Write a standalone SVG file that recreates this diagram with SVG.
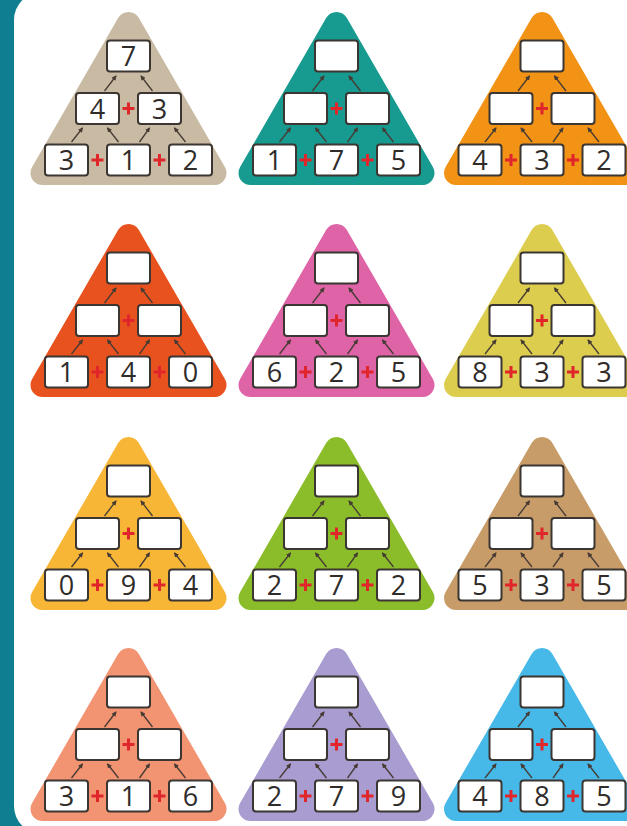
<svg xmlns="http://www.w3.org/2000/svg" width="627" height="826" viewBox="0 0 627 826">
<defs>
<marker id="ah" viewBox="0 0 6 6" refX="5" refY="3" markerWidth="5" markerHeight="5" markerUnits="userSpaceOnUse" orient="auto"><path d="M0,0 L6,3 L0,6 Z" fill="#463b33"/></marker>
<style>
.tri{stroke-width:24;stroke-linejoin:round}
.box{fill:#ffffff;stroke:#3b3632;stroke-width:2}
.plus{fill:none;stroke:#e0262b;stroke-width:3}
.num{font-family:"Open Sans","Liberation Sans",sans-serif;font-size:27px;fill:#2f2c2a;text-anchor:middle}
.arr{stroke:#463b33;stroke-width:1.3;fill:none;marker-end:url(#ah)}
</style>
</defs>
<rect x="0" y="0" width="627" height="826" fill="#0f7e90"/>
<rect x="14" y="-8" width="700" height="842" rx="28" fill="#ffffff"/>

<g id="pyramid-1" transform="translate(128.5,160)">
<path class="tri" d="M0,-136 L86,13 L-86,13Z" fill="#c9bba3" stroke="#c9bba3"/>
<g id="p1-top"><rect class="box" x="-21.5" y="-119.5" width="43" height="31" rx="3"/><text class="num" x="0" y="-94">7</text></g>
<g id="p1-ml"><rect class="box" x="-52.5" y="-67" width="43" height="31" rx="3"/><text class="num" x="-31" y="-41.5">4</text></g>
<g id="p1-mr"><rect class="box" x="9.5" y="-67" width="43" height="31" rx="3"/><text class="num" x="31" y="-41.5">3</text></g>
<g id="p1-bl"><rect class="box" x="-83.5" y="-15.5" width="43" height="31" rx="3"/><text class="num" x="-62" y="10">3</text></g>
<g id="p1-bm"><rect class="box" x="-21.5" y="-15.5" width="43" height="31" rx="3"/><text class="num" x="0" y="10">1</text></g>
<g id="p1-br"><rect class="box" x="40.5" y="-15.5" width="43" height="31" rx="3"/><text class="num" x="62" y="10">2</text></g>
<path class="plus" d="M-37,0H-25M-31,-6V6M25,0H37M31,-6V6M-6,-51.5H6M0,-57.5V-45.5"/>
</g>

<g id="pyramid-2" transform="translate(336.5,160)">
<path class="tri" d="M0,-136 L86,13 L-86,13Z" fill="#179a8f" stroke="#179a8f"/>
<g id="p2-top"><rect class="box" x="-21.5" y="-119.5" width="43" height="31" rx="3"/></g>
<g id="p2-ml"><rect class="box" x="-52.5" y="-67" width="43" height="31" rx="3"/></g>
<g id="p2-mr"><rect class="box" x="9.5" y="-67" width="43" height="31" rx="3"/></g>
<g id="p2-bl"><rect class="box" x="-83.5" y="-15.5" width="43" height="31" rx="3"/><text class="num" x="-62" y="10">1</text></g>
<g id="p2-bm"><rect class="box" x="-21.5" y="-15.5" width="43" height="31" rx="3"/><text class="num" x="0" y="10">7</text></g>
<g id="p2-br"><rect class="box" x="40.5" y="-15.5" width="43" height="31" rx="3"/><text class="num" x="62" y="10">5</text></g>
<path class="plus" d="M-37,0H-25M-31,-6V6M25,0H37M31,-6V6M-6,-51.5H6M0,-57.5V-45.5"/>
</g>

<g id="pyramid-3" transform="translate(542,160)">
<path class="tri" d="M0,-136 L86,13 L-86,13Z" fill="#f39316" stroke="#f39316"/>
<g id="p3-top"><rect class="box" x="-21.5" y="-119.5" width="43" height="31" rx="3"/></g>
<g id="p3-ml"><rect class="box" x="-52.5" y="-67" width="43" height="31" rx="3"/></g>
<g id="p3-mr"><rect class="box" x="9.5" y="-67" width="43" height="31" rx="3"/></g>
<g id="p3-bl"><rect class="box" x="-83.5" y="-15.5" width="43" height="31" rx="3"/><text class="num" x="-62" y="10">4</text></g>
<g id="p3-bm"><rect class="box" x="-21.5" y="-15.5" width="43" height="31" rx="3"/><text class="num" x="0" y="10">3</text></g>
<g id="p3-br"><rect class="box" x="40.5" y="-15.5" width="43" height="31" rx="3"/><text class="num" x="62" y="10">2</text></g>
<path class="plus" d="M-37,0H-25M-31,-6V6M25,0H37M31,-6V6M-6,-51.5H6M0,-57.5V-45.5"/>
</g>

<g id="pyramid-4" transform="translate(128.5,372)">
<path class="tri" d="M0,-136 L86,13 L-86,13Z" fill="#e8521f" stroke="#e8521f"/>
<g id="p4-top"><rect class="box" x="-21.5" y="-119.5" width="43" height="31" rx="3"/></g>
<g id="p4-ml"><rect class="box" x="-52.5" y="-67" width="43" height="31" rx="3"/></g>
<g id="p4-mr"><rect class="box" x="9.5" y="-67" width="43" height="31" rx="3"/></g>
<g id="p4-bl"><rect class="box" x="-83.5" y="-15.5" width="43" height="31" rx="3"/><text class="num" x="-62" y="10">1</text></g>
<g id="p4-bm"><rect class="box" x="-21.5" y="-15.5" width="43" height="31" rx="3"/><text class="num" x="0" y="10">4</text></g>
<g id="p4-br"><rect class="box" x="40.5" y="-15.5" width="43" height="31" rx="3"/><text class="num" x="62" y="10">0</text></g>
<path class="plus" d="M-37,0H-25M-31,-6V6M25,0H37M31,-6V6M-6,-51.5H6M0,-57.5V-45.5"/>
</g>

<g id="pyramid-5" transform="translate(336.5,372)">
<path class="tri" d="M0,-136 L86,13 L-86,13Z" fill="#de63a7" stroke="#de63a7"/>
<g id="p5-top"><rect class="box" x="-21.5" y="-119.5" width="43" height="31" rx="3"/></g>
<g id="p5-ml"><rect class="box" x="-52.5" y="-67" width="43" height="31" rx="3"/></g>
<g id="p5-mr"><rect class="box" x="9.5" y="-67" width="43" height="31" rx="3"/></g>
<g id="p5-bl"><rect class="box" x="-83.5" y="-15.5" width="43" height="31" rx="3"/><text class="num" x="-62" y="10">6</text></g>
<g id="p5-bm"><rect class="box" x="-21.5" y="-15.5" width="43" height="31" rx="3"/><text class="num" x="0" y="10">2</text></g>
<g id="p5-br"><rect class="box" x="40.5" y="-15.5" width="43" height="31" rx="3"/><text class="num" x="62" y="10">5</text></g>
<path class="plus" d="M-37,0H-25M-31,-6V6M25,0H37M31,-6V6M-6,-51.5H6M0,-57.5V-45.5"/>
</g>

<g id="pyramid-6" transform="translate(542,372)">
<path class="tri" d="M0,-136 L86,13 L-86,13Z" fill="#dccd4f" stroke="#dccd4f"/>
<g id="p6-top"><rect class="box" x="-21.5" y="-119.5" width="43" height="31" rx="3"/></g>
<g id="p6-ml"><rect class="box" x="-52.5" y="-67" width="43" height="31" rx="3"/></g>
<g id="p6-mr"><rect class="box" x="9.5" y="-67" width="43" height="31" rx="3"/></g>
<g id="p6-bl"><rect class="box" x="-83.5" y="-15.5" width="43" height="31" rx="3"/><text class="num" x="-62" y="10">8</text></g>
<g id="p6-bm"><rect class="box" x="-21.5" y="-15.5" width="43" height="31" rx="3"/><text class="num" x="0" y="10">3</text></g>
<g id="p6-br"><rect class="box" x="40.5" y="-15.5" width="43" height="31" rx="3"/><text class="num" x="62" y="10">3</text></g>
<path class="plus" d="M-37,0H-25M-31,-6V6M25,0H37M31,-6V6M-6,-51.5H6M0,-57.5V-45.5"/>
</g>

<g id="pyramid-7" transform="translate(128.5,585)">
<path class="tri" d="M0,-136 L86,13 L-86,13Z" fill="#f8b637" stroke="#f8b637"/>
<g id="p7-top"><rect class="box" x="-21.5" y="-119.5" width="43" height="31" rx="3"/></g>
<g id="p7-ml"><rect class="box" x="-52.5" y="-67" width="43" height="31" rx="3"/></g>
<g id="p7-mr"><rect class="box" x="9.5" y="-67" width="43" height="31" rx="3"/></g>
<g id="p7-bl"><rect class="box" x="-83.5" y="-15.5" width="43" height="31" rx="3"/><text class="num" x="-62" y="10">0</text></g>
<g id="p7-bm"><rect class="box" x="-21.5" y="-15.5" width="43" height="31" rx="3"/><text class="num" x="0" y="10">9</text></g>
<g id="p7-br"><rect class="box" x="40.5" y="-15.5" width="43" height="31" rx="3"/><text class="num" x="62" y="10">4</text></g>
<path class="plus" d="M-37,0H-25M-31,-6V6M25,0H37M31,-6V6M-6,-51.5H6M0,-57.5V-45.5"/>
</g>

<g id="pyramid-8" transform="translate(336.5,585)">
<path class="tri" d="M0,-136 L86,13 L-86,13Z" fill="#8bbd2b" stroke="#8bbd2b"/>
<g id="p8-top"><rect class="box" x="-21.5" y="-119.5" width="43" height="31" rx="3"/></g>
<g id="p8-ml"><rect class="box" x="-52.5" y="-67" width="43" height="31" rx="3"/></g>
<g id="p8-mr"><rect class="box" x="9.5" y="-67" width="43" height="31" rx="3"/></g>
<g id="p8-bl"><rect class="box" x="-83.5" y="-15.5" width="43" height="31" rx="3"/><text class="num" x="-62" y="10">2</text></g>
<g id="p8-bm"><rect class="box" x="-21.5" y="-15.5" width="43" height="31" rx="3"/><text class="num" x="0" y="10">7</text></g>
<g id="p8-br"><rect class="box" x="40.5" y="-15.5" width="43" height="31" rx="3"/><text class="num" x="62" y="10">2</text></g>
<path class="plus" d="M-37,0H-25M-31,-6V6M25,0H37M31,-6V6M-6,-51.5H6M0,-57.5V-45.5"/>
</g>

<g id="pyramid-9" transform="translate(542,585)">
<path class="tri" d="M0,-136 L86,13 L-86,13Z" fill="#c79c69" stroke="#c79c69"/>
<g id="p9-top"><rect class="box" x="-21.5" y="-119.5" width="43" height="31" rx="3"/></g>
<g id="p9-ml"><rect class="box" x="-52.5" y="-67" width="43" height="31" rx="3"/></g>
<g id="p9-mr"><rect class="box" x="9.5" y="-67" width="43" height="31" rx="3"/></g>
<g id="p9-bl"><rect class="box" x="-83.5" y="-15.5" width="43" height="31" rx="3"/><text class="num" x="-62" y="10">5</text></g>
<g id="p9-bm"><rect class="box" x="-21.5" y="-15.5" width="43" height="31" rx="3"/><text class="num" x="0" y="10">3</text></g>
<g id="p9-br"><rect class="box" x="40.5" y="-15.5" width="43" height="31" rx="3"/><text class="num" x="62" y="10">5</text></g>
<path class="plus" d="M-37,0H-25M-31,-6V6M25,0H37M31,-6V6M-6,-51.5H6M0,-57.5V-45.5"/>
</g>

<g id="pyramid-10" transform="translate(128.5,796)">
<path class="tri" d="M0,-136 L86,13 L-86,13Z" fill="#f29372" stroke="#f29372"/>
<g id="p10-top"><rect class="box" x="-21.5" y="-119.5" width="43" height="31" rx="3"/></g>
<g id="p10-ml"><rect class="box" x="-52.5" y="-67" width="43" height="31" rx="3"/></g>
<g id="p10-mr"><rect class="box" x="9.5" y="-67" width="43" height="31" rx="3"/></g>
<g id="p10-bl"><rect class="box" x="-83.5" y="-15.5" width="43" height="31" rx="3"/><text class="num" x="-62" y="10">3</text></g>
<g id="p10-bm"><rect class="box" x="-21.5" y="-15.5" width="43" height="31" rx="3"/><text class="num" x="0" y="10">1</text></g>
<g id="p10-br"><rect class="box" x="40.5" y="-15.5" width="43" height="31" rx="3"/><text class="num" x="62" y="10">6</text></g>
<path class="plus" d="M-37,0H-25M-31,-6V6M25,0H37M31,-6V6M-6,-51.5H6M0,-57.5V-45.5"/>
</g>

<g id="pyramid-11" transform="translate(336.5,796)">
<path class="tri" d="M0,-136 L86,13 L-86,13Z" fill="#a99cd0" stroke="#a99cd0"/>
<g id="p11-top"><rect class="box" x="-21.5" y="-119.5" width="43" height="31" rx="3"/></g>
<g id="p11-ml"><rect class="box" x="-52.5" y="-67" width="43" height="31" rx="3"/></g>
<g id="p11-mr"><rect class="box" x="9.5" y="-67" width="43" height="31" rx="3"/></g>
<g id="p11-bl"><rect class="box" x="-83.5" y="-15.5" width="43" height="31" rx="3"/><text class="num" x="-62" y="10">2</text></g>
<g id="p11-bm"><rect class="box" x="-21.5" y="-15.5" width="43" height="31" rx="3"/><text class="num" x="0" y="10">7</text></g>
<g id="p11-br"><rect class="box" x="40.5" y="-15.5" width="43" height="31" rx="3"/><text class="num" x="62" y="10">9</text></g>
<path class="plus" d="M-37,0H-25M-31,-6V6M25,0H37M31,-6V6M-6,-51.5H6M0,-57.5V-45.5"/>
</g>

<g id="pyramid-12" transform="translate(542,796)">
<path class="tri" d="M0,-136 L86,13 L-86,13Z" fill="#46b9e8" stroke="#46b9e8"/>
<g id="p12-top"><rect class="box" x="-21.5" y="-119.5" width="43" height="31" rx="3"/></g>
<g id="p12-ml"><rect class="box" x="-52.5" y="-67" width="43" height="31" rx="3"/></g>
<g id="p12-mr"><rect class="box" x="9.5" y="-67" width="43" height="31" rx="3"/></g>
<g id="p12-bl"><rect class="box" x="-83.5" y="-15.5" width="43" height="31" rx="3"/><text class="num" x="-62" y="10">4</text></g>
<g id="p12-bm"><rect class="box" x="-21.5" y="-15.5" width="43" height="31" rx="3"/><text class="num" x="0" y="10">8</text></g>
<g id="p12-br"><rect class="box" x="40.5" y="-15.5" width="43" height="31" rx="3"/><text class="num" x="62" y="10">5</text></g>
<path class="plus" d="M-37,0H-25M-31,-6V6M25,0H37M31,-6V6M-6,-51.5H6M0,-57.5V-45.5"/>
</g>

<g id="connectors">
<g transform="translate(128.5,160)"><line class="arr" x1="-57" y1="-18" x2="-46" y2="-32"/><line class="arr" x1="-10" y1="-18" x2="-21" y2="-32"/><line class="arr" x1="11" y1="-18" x2="21" y2="-32"/><line class="arr" x1="57" y1="-18" x2="46" y2="-32"/><line class="arr" x1="-24" y1="-69" x2="-12.5" y2="-84"/><line class="arr" x1="24" y1="-69" x2="12.5" y2="-84"/></g>
<g transform="translate(336.5,160)"><line class="arr" x1="-57" y1="-18" x2="-46" y2="-32"/><line class="arr" x1="-10" y1="-18" x2="-21" y2="-32"/><line class="arr" x1="11" y1="-18" x2="21" y2="-32"/><line class="arr" x1="57" y1="-18" x2="46" y2="-32"/><line class="arr" x1="-24" y1="-69" x2="-12.5" y2="-84"/><line class="arr" x1="24" y1="-69" x2="12.5" y2="-84"/></g>
<g transform="translate(542,160)"><line class="arr" x1="-57" y1="-18" x2="-46" y2="-32"/><line class="arr" x1="-10" y1="-18" x2="-21" y2="-32"/><line class="arr" x1="11" y1="-18" x2="21" y2="-32"/><line class="arr" x1="57" y1="-18" x2="46" y2="-32"/><line class="arr" x1="-24" y1="-69" x2="-12.5" y2="-84"/><line class="arr" x1="24" y1="-69" x2="12.5" y2="-84"/></g>
<g transform="translate(128.5,372)"><line class="arr" x1="-57" y1="-18" x2="-46" y2="-32"/><line class="arr" x1="-10" y1="-18" x2="-21" y2="-32"/><line class="arr" x1="11" y1="-18" x2="21" y2="-32"/><line class="arr" x1="57" y1="-18" x2="46" y2="-32"/><line class="arr" x1="-24" y1="-69" x2="-12.5" y2="-84"/><line class="arr" x1="24" y1="-69" x2="12.5" y2="-84"/></g>
<g transform="translate(336.5,372)"><line class="arr" x1="-57" y1="-18" x2="-46" y2="-32"/><line class="arr" x1="-10" y1="-18" x2="-21" y2="-32"/><line class="arr" x1="11" y1="-18" x2="21" y2="-32"/><line class="arr" x1="57" y1="-18" x2="46" y2="-32"/><line class="arr" x1="-24" y1="-69" x2="-12.5" y2="-84"/><line class="arr" x1="24" y1="-69" x2="12.5" y2="-84"/></g>
<g transform="translate(542,372)"><line class="arr" x1="-57" y1="-18" x2="-46" y2="-32"/><line class="arr" x1="-10" y1="-18" x2="-21" y2="-32"/><line class="arr" x1="11" y1="-18" x2="21" y2="-32"/><line class="arr" x1="57" y1="-18" x2="46" y2="-32"/><line class="arr" x1="-24" y1="-69" x2="-12.5" y2="-84"/><line class="arr" x1="24" y1="-69" x2="12.5" y2="-84"/></g>
<g transform="translate(128.5,585)"><line class="arr" x1="-57" y1="-18" x2="-46" y2="-32"/><line class="arr" x1="-10" y1="-18" x2="-21" y2="-32"/><line class="arr" x1="11" y1="-18" x2="21" y2="-32"/><line class="arr" x1="57" y1="-18" x2="46" y2="-32"/><line class="arr" x1="-24" y1="-69" x2="-12.5" y2="-84"/><line class="arr" x1="24" y1="-69" x2="12.5" y2="-84"/></g>
<g transform="translate(336.5,585)"><line class="arr" x1="-57" y1="-18" x2="-46" y2="-32"/><line class="arr" x1="-10" y1="-18" x2="-21" y2="-32"/><line class="arr" x1="11" y1="-18" x2="21" y2="-32"/><line class="arr" x1="57" y1="-18" x2="46" y2="-32"/><line class="arr" x1="-24" y1="-69" x2="-12.5" y2="-84"/><line class="arr" x1="24" y1="-69" x2="12.5" y2="-84"/></g>
<g transform="translate(542,585)"><line class="arr" x1="-57" y1="-18" x2="-46" y2="-32"/><line class="arr" x1="-10" y1="-18" x2="-21" y2="-32"/><line class="arr" x1="11" y1="-18" x2="21" y2="-32"/><line class="arr" x1="57" y1="-18" x2="46" y2="-32"/><line class="arr" x1="-24" y1="-69" x2="-12.5" y2="-84"/><line class="arr" x1="24" y1="-69" x2="12.5" y2="-84"/></g>
<g transform="translate(128.5,796)"><line class="arr" x1="-57" y1="-18" x2="-46" y2="-32"/><line class="arr" x1="-10" y1="-18" x2="-21" y2="-32"/><line class="arr" x1="11" y1="-18" x2="21" y2="-32"/><line class="arr" x1="57" y1="-18" x2="46" y2="-32"/><line class="arr" x1="-24" y1="-69" x2="-12.5" y2="-84"/><line class="arr" x1="24" y1="-69" x2="12.5" y2="-84"/></g>
<g transform="translate(336.5,796)"><line class="arr" x1="-57" y1="-18" x2="-46" y2="-32"/><line class="arr" x1="-10" y1="-18" x2="-21" y2="-32"/><line class="arr" x1="11" y1="-18" x2="21" y2="-32"/><line class="arr" x1="57" y1="-18" x2="46" y2="-32"/><line class="arr" x1="-24" y1="-69" x2="-12.5" y2="-84"/><line class="arr" x1="24" y1="-69" x2="12.5" y2="-84"/></g>
<g transform="translate(542,796)"><line class="arr" x1="-57" y1="-18" x2="-46" y2="-32"/><line class="arr" x1="-10" y1="-18" x2="-21" y2="-32"/><line class="arr" x1="11" y1="-18" x2="21" y2="-32"/><line class="arr" x1="57" y1="-18" x2="46" y2="-32"/><line class="arr" x1="-24" y1="-69" x2="-12.5" y2="-84"/><line class="arr" x1="24" y1="-69" x2="12.5" y2="-84"/></g>
</g>
</svg>
